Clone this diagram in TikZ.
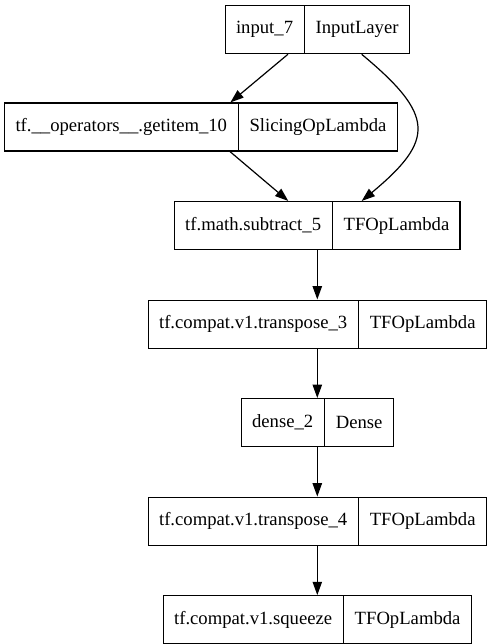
\documentclass[tikz,border=0pt]{standalone}
\usepackage{fontspec}
\setmainfont{Liberation Serif}
\usetikzlibrary{arrows.meta,positioning,shapes.multipart}

\begin{document}
\begin{tikzpicture}[
  x=0.75pt, y=-0.75pt,
  font=\fontsize{14pt}{16pt}\selectfont,
  node distance=37pt,
  layer/.style={draw, line width=0.9pt, rectangle split, rectangle split horizontal, rectangle split parts=2, inner xsep=8pt, inner ysep=0pt, minimum height=36pt},
  arr/.style={-{Triangle[length=10pt,width=7pt]}, line width=0.9pt}
]
\useasboundingbox (0,0) rectangle (495,644);
\node[layer] (inp) at (317.3,29.7) {input\_7\nodepart{two}InputLayer};
\node[layer] (getitem) at (201,127) {tf.\_\_operators\_\_.getitem\_10\nodepart{two}SlicingOpLambda};
\node[layer, below=110pt of inp] (sub) {tf.math.subtract\_5\nodepart{two}TFOpLambda};
\node[layer, below=of sub] (trans3) {tf.compat.v1.transpose\_3\nodepart{two}TFOpLambda};
\node[layer, below=of trans3] (dense) {dense\_2\nodepart{two}Dense};
\node[layer, below=of dense] (trans4) {tf.compat.v1.transpose\_4\nodepart{two}TFOpLambda};
\node[layer, below=of trans4] (squeeze) {tf.compat.v1.squeeze\nodepart{two}TFOpLambda};
\draw[arr] (inp) -- (getitem);
\draw[arr] ([xshift=33.3pt]inp.south) .. controls +(55pt,-45.7pt) and +(55pt,45.7pt) .. ([xshift=33.3pt]sub.north);
\draw[arr] (getitem) -- (sub);
\draw[arr] (sub) -- (trans3);
\draw[arr] (trans3) -- (dense);
\draw[arr] (dense) -- (trans4);
\draw[arr] (trans4) -- (squeeze);
\end{tikzpicture}
\end{document}
